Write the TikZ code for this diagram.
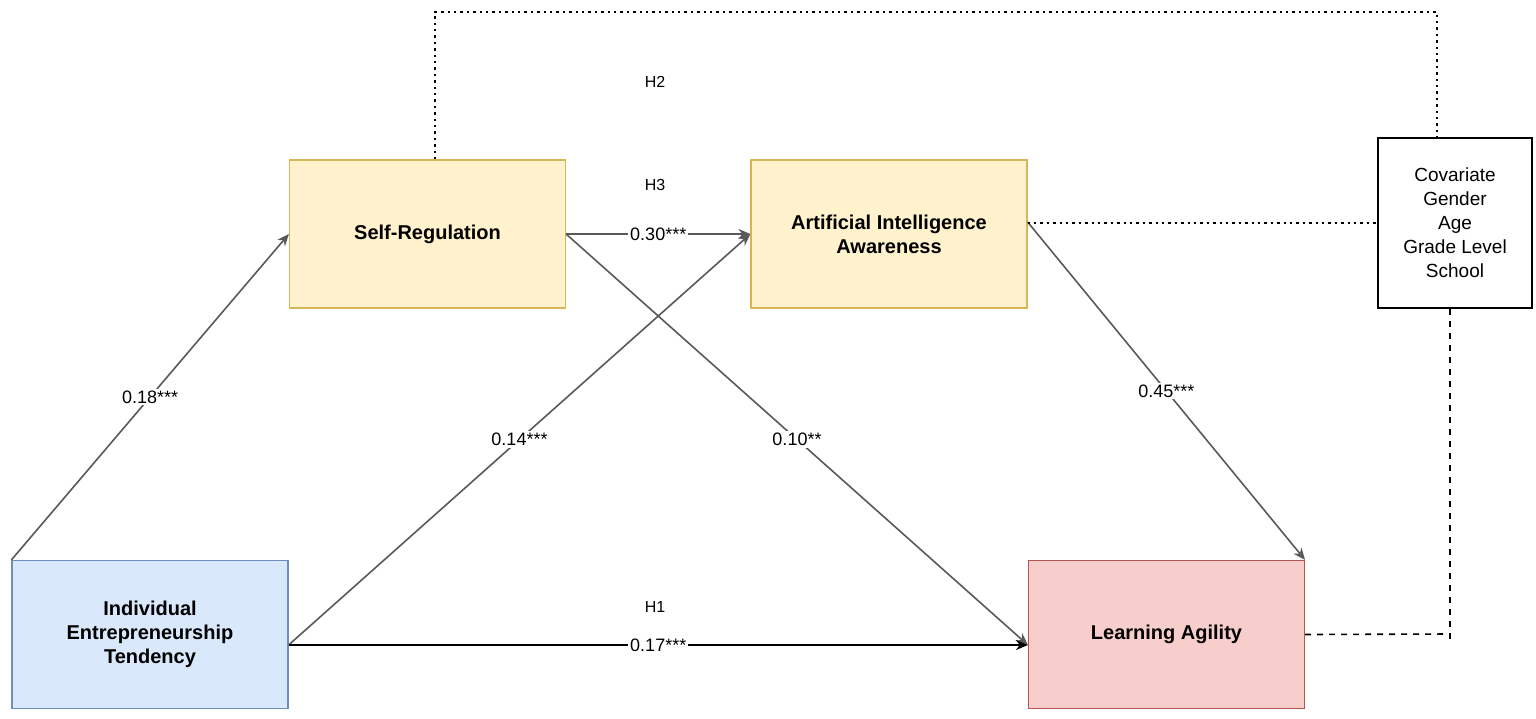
\documentclass[tikz,border=0pt]{standalone}
\usepackage{fontspec}
\setmainfont{Liberation Sans}
\usetikzlibrary{arrows.meta,positioning}
\definecolor{srfill}{HTML}{FFF2CC}\definecolor{srdraw}{HTML}{D6B656}
\definecolor{ietfill}{HTML}{DAE8FC}\definecolor{ietdraw}{HTML}{6C8EBF}
\definecolor{lafill}{HTML}{F8CECC}\definecolor{ladraw}{HTML}{B85450}
\definecolor{pathgray}{HTML}{595959}
\begin{document}
\begin{tikzpicture}[x=0.5pt,y=-0.5pt,>={Stealth[length=6pt,width=5pt]},
		var/.style={rectangle,draw,line width=0.6pt,align=center,font=\fontsize{10}{12}\selectfont\bfseries,minimum width=138pt,minimum height=74pt,inner sep=0pt},
		path/.style={->,draw=pathgray,line width=0.8pt},
		coef/.style={fill=white,inner sep=1pt,font=\fontsize{9}{10}\selectfont},
		hyp/.style={font=\fontsize{8}{10}\selectfont}]
		\useasboundingbox (0,0) rectangle (1536,718);
		\node[var,fill=ietfill,draw=ietdraw] (iet) at (150,634.5) {Individual\\Entrepreneurship\\Tendency};
		\node[var,fill=srfill,draw=srdraw]   (sr)  at (427.5,234) {Self-Regulation};
		\node[var,fill=srfill,draw=srdraw]   (aia) at (889,234)   {Artificial Intelligence\\Awareness};
		\node[var,fill=lafill,draw=ladraw]   (la)  at (1166.5,634.5) {Learning Agility};
		\node[rectangle,draw,line width=0.8pt,align=center,font=\fontsize{9.5}{12}\selectfont,minimum width=77pt,minimum height=85pt,inner sep=0pt] (cov) at (1455,223) {Covariate\\Gender\\Age\\Grade Level\\School};
		
		\node[hyp] (h2) at (655,82)  {H2};
		\node[hyp] (h3) at (655,185) {H3};
		\node[hyp] (h1) at (655,607) {H1};
		
		\coordinate (c1) at (435,12);
		\coordinate (c2) at (1437,12);
		\coordinate (c3) at (1450,634);
		
		\draw[path] (iet.north west) -- node[coef,pos=0.5] {0.18***} (sr.west);
		\draw[path] (sr.east) -- node[coef,pos=0.5] {0.30***} (aia.west);
		\draw[path] (iet.east |- 0,645) -- node[coef,pos=0.5] {0.14***} (aia.west);
		\draw[path] (sr.east) -- node[coef,pos=0.5] {0.10**} (la.west |- 0,645);
		\draw[path,draw=black] (iet.east |- 0,645) -- node[coef,pos=0.5] {0.17***} (la.west |- 0,645);
		\draw[path] (aia.east |- 0,222) -- node[coef,pos=0.5] {0.45***} (la.north east);
		
		\draw[dotted,line width=1.2pt] (sr.north -| c1) -- (c1) -- (c2) -- (cov.north -| c2);
		\draw[dotted,line width=1.2pt] (aia.east |- cov.west) -- (cov.west);
		\draw[dashed,line width=0.8pt] (la.east) -- (c3);
		\draw[dashed,line width=0.8pt] (cov.south -| c3) -- ([yshift=-3pt]c3);
\end{tikzpicture}
\end{document}
